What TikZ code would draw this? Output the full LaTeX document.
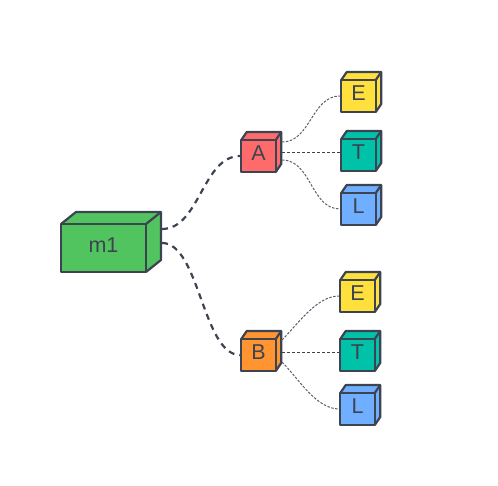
\documentclass[tikz,border=0pt]{standalone}
\usepackage{fontspec}
\setmainfont{Liberation Sans}
\usetikzlibrary{calc}
\definecolor{cubeline}{HTML}{3D4451}
\definecolor{cubegreen}{HTML}{52C45F}
\definecolor{cubered}{HTML}{FF6B6B}
\definecolor{cubeorange}{HTML}{FF9430}
\definecolor{cubeyellow}{HTML}{FFE03D}
\definecolor{cubeteal}{HTML}{00C2A8}
\definecolor{cubeblue}{HTML}{70AEFF}
\tikzset{
  cubeface/.style={draw=cubeline,line width=2.2pt,line join=round},
  cubefront/.style={cubeface,fill=#1,inner sep=0pt,text=cubeline,text height=9pt,text depth=0pt,
    font=\fontsize{21.5}{21.5}\selectfont},
  thick link/.style={draw=cubeline,line width=2.2pt,dash pattern=on 6pt off 5pt},
  thin link/.style={draw=cubeline!85,line width=1pt,dash pattern=on 2.5pt off 1.5pt},
  straight link/.style={draw=cubeline,line width=1.1pt,dash pattern=on 3pt off 2pt}
}
% name, centre, width, height, depth x, depth y, colour, text
\newcommand{\cubenode}[8]{
  \fill[#7] ($(#2)+(-#3/2,-#4/2)$)--++(#5,-#6)--++(#3,0)--++(0,#4)--++(-#5,#6)--cycle;
  \draw[cubeface] ($(#2)+(-#3/2,-#4/2)$)--++(#5,-#6)--++(#3,0)--++(0,#4)--++(-#5,#6);
  \draw[cubeface] ($(#2)+(#3/2,-#4/2)$)--++(#5,-#6);
  \node[cubefront=#7,minimum width=#3 pt,minimum height=#4 pt] (#1) at (#2) {#8};
}
\begin{document}
\begin{tikzpicture}[x=1pt,y=-1pt]
  \useasboundingbox (0,0) rectangle (498,486);

  % the cubes
  \cubenode{m1}{103.5,248}{85}{48}{15}{12}{cubegreen}{m1}
  \cubenode{A}{258.5,156}{34.5}{32}{5.5}{8}{cubered}{A}
  \cubenode{B}{258.5,355}{34.5}{32}{5.5}{8}{cubeorange}{B}
  \cubenode{Ea}{358.5,96}{34.5}{32}{5.5}{8}{cubeyellow}{E}
  \cubenode{Ta}{358.5,155}{34.5}{32}{5.5}{8}{cubeteal}{T}
  \cubenode{La}{358.5,209}{34.5}{32}{5.5}{8}{cubeblue}{L}
  \cubenode{Eb}{357.5,296}{34.5}{32}{5.5}{8}{cubeyellow}{E}
  \cubenode{Tb}{357.5,355}{34.5}{32}{5.5}{8}{cubeteal}{T}
  \cubenode{Lb}{357.5,409}{34.5}{32}{5.5}{8}{cubeblue}{L}

  % where the links leave the side faces
  \coordinate (m1up) at (162,229);
  \coordinate (m1down) at (162,243);
  \coordinate (Aup) at (282,142);
  \coordinate (Amid) at (282,152.5);
  \coordinate (Adown) at (282,160);
  \coordinate (Bup) at (282,340);
  \coordinate (Bmid) at (282,352.5);
  \coordinate (Bdown) at (282,362);

  \draw[thick link] (m1up) to[out=0,in=180,looseness=.9] (A.west);
  \draw[thick link] (m1down) to[out=0,in=180,looseness=.7] (B.west);

  \draw[thin link] (Aup) to[out=0,in=180] (Ea.west);
  \draw[straight link] (Amid) -- (Amid -| Ta.west);
  \draw[thin link] (Adown) to[out=0,in=180] (La.west);
  \draw[thin link] (Bup) to[out=45,in=180,looseness=.8] (Eb.west);
  \draw[straight link] (Bmid) -- (Bmid -| Tb.west);
  \draw[thin link] (Bdown) to[out=-45,in=180,looseness=.8] (Lb.west);
\end{tikzpicture}
\end{document}
